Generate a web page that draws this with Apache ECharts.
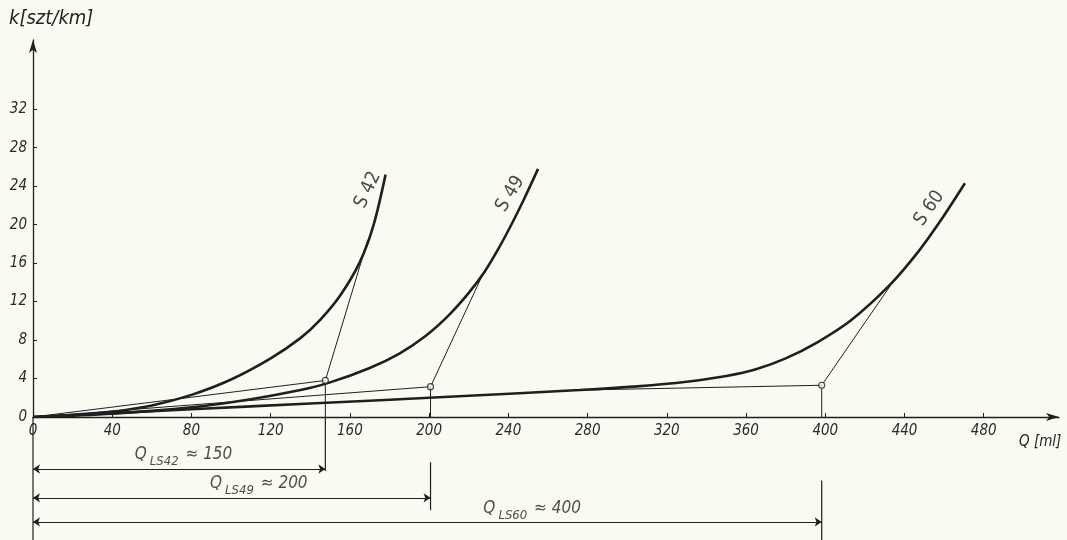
<!DOCTYPE html>
<html>
<head>
<meta charset="utf-8">
<script src="https://cdn.jsdelivr.net/npm/echarts@6/dist/echarts.min.js"></script>
<style>
html,body{margin:0;padding:0;background:#fbfaf2;}
#c{width:1067px;height:540px;}
</style>
</head>
<body>
<div id="c"></div>
<script>
// ---- data ----
const xTicks = [0, 40, 80, 120, 160, 200, 240, 280, 320, 360, 400, 440, 480];
const yTicks = [0, 4, 8, 12, 16, 20, 24, 28, 32];
const curveNames = ['S42', 'S49', 'S60'];
const s42 = [[0,0],[20,0.15],[40,0.55],[60,1.2],[80,2.3],[100,3.9],[120,6.1],[135,8.2],[145,10.1],[155,12.6],[165,16.1],[172,20.0],[178,25.2]];
const s49 = [[0,0],[40,0.35],[80,1.0],[110,1.85],[135,2.8],[150,3.6],[170,5.1],[185,6.6],[198,8.4],[210,10.6],[220,12.9],[228,15.1],[235,17.5],[242,20.2],[248,22.7],[255,25.8]];
const s60 = [[0,0],[40,0.4],[80,0.8],[140,1.4],[210,2.1],[276,2.8],[305,3.18],[330,3.66],[350,4.26],[365,4.96],[380,6.09],[396,7.77],[413,10.06],[432,13.6],[447,17.2],[458.5,20.5],[470.5,24.3]];
// construction points: chord start, Q_L point (circle), tangent point on curve
const chordStart = [[0,0],[0,0],[276,2.8]];
const qPoints = [[147.6,3.8],[200.7,3.15],[398.2,3.3]];
const tangentEnd = [[169,18.4],[227,14.8],[433,13.7]];
const qValues = ['150', '200', '400'];
const qSubs = ['LS42', 'LS49', 'LS60'];
// dimension lines below the axis (depth below axis in k units)
const dimDepth = [5.4, 8.4, 10.9];
const extTop = [0, 4.7, 6.6];
const extBottom = [5.6, 9.7, 12.78];
const dimLabelAt = [[76,4.2],[114,7.2],[252,9.8]];
const curveLabelAt = [[169,23.6],[241,23.2],[452.5,21.7]];
const curveLabelAngle = [65, 59, 55];

const INK = '#1f1f1f';
const FONT = "'DejaVu Sans Condensed', 'DejaVu Sans', sans-serif";
const curves = [s42, s49, s60];

const series = [];
curves.forEach((d, i) => {
  series.push({type:'line', xAxisIndex:0, yAxisIndex:0, data:d, smooth:0.3,
    symbol:'none', lineStyle:{color:INK, width:2.6}, z:5});
  series.push({type:'line', xAxisIndex:0, yAxisIndex:0, data:[chordStart[i], qPoints[i], tangentEnd[i]],
    symbol:'none', lineStyle:{color:INK, width:1}, z:4});
  series.push({type:'line', xAxisIndex:0, yAxisIndex:0, data:[qPoints[i], [qPoints[i][0], 0]],
    symbol:'none', lineStyle:{color:INK, width:1}, z:4});
  // extension line below axis
  series.push({type:'line', xAxisIndex:1, yAxisIndex:1, data:[[qPoints[i][0], extTop[i]], [qPoints[i][0], extBottom[i]]],
    symbol:'none', lineStyle:{color:INK, width:1.2}});
});
// left extension line
series.push({type:'line', xAxisIndex:1, yAxisIndex:1, data:[[0,0],[0,12.78]], symbol:'none', lineStyle:{color:INK, width:1.2}});
// dimension arrows
series.push({type:'lines', coordinateSystem:'cartesian2d', xAxisIndex:1, yAxisIndex:1,
  symbol:['arrow','arrow'], symbolSize:[7,7],
  lineStyle:{color:INK, width:1.2, opacity:1},
  data: qPoints.map((p, i) => ({coords:[[0, dimDepth[i]], [p[0], dimDepth[i]]]}))});
// dimension labels
series.push({type:'scatter', xAxisIndex:1, yAxisIndex:1, symbolSize:0, silent:true,
  data: dimLabelAt.map((p, i) => ({value:p, label:{formatter:'{q|Q}{s|' + qSubs[i] + '}{t| \u2248 ' + qValues[i] + '}'}})),
  label:{show:true, position:'inside', color:'#222',
    rich:{
      q:{fontSize:17, fontFamily:FONT, fontStyle:'italic', color:'#222', verticalAlign:'top', lineHeight:22},
      s:{fontSize:13, fontFamily:FONT, fontStyle:'italic', color:'#222', verticalAlign:'bottom', lineHeight:22, padding:[6,2,0,3]},
      t:{fontSize:17, fontFamily:FONT, fontStyle:'italic', color:'#222', verticalAlign:'top', lineHeight:22}
    }}});
// Q_L points (circles)
series.push({type:'scatter', xAxisIndex:0, yAxisIndex:0, data:qPoints, symbol:'circle', symbolSize:6,
  itemStyle:{color:'#fbfaf2', borderColor:INK, borderWidth:1.2}, z:10});
// curve labels
series.push({type:'scatter', xAxisIndex:0, yAxisIndex:0, symbolSize:0, silent:true,
  data: curveLabelAt.map((p, i) => ({value:p, label:{formatter:curveNames[i].replace('S','S '), rotate:curveLabelAngle[i]}})),
  label:{show:true, position:'inside', fontSize:19, fontFamily:FONT, color:'#1a1a1a'}});

const tickLabel = {fontSize:15, fontFamily:FONT, fontStyle:'italic', color:'#2a2a2a'};

const option = {
  backgroundColor:'#fbfaf2',
  animation:false,
  title:[
    {text:'k[szt/km]', left:4, top:4, textStyle:{fontSize:20, fontWeight:'normal', fontStyle:'italic', fontFamily:FONT, color:'#222'}},
    {text:'Q [ml]', left:1014, top:430, textStyle:{fontSize:15, fontWeight:'normal', fontStyle:'italic', fontFamily:FONT, color:'#222'}}
  ],
  grid:[
    {left:33, right:8, top:40, bottom:123, containLabel:false, outerBoundsMode:'none'},
    {left:33, right:8, top:417, bottom:0, containLabel:false, outerBoundsMode:'none'}
  ],
  xAxis:[
    {type:'value', gridIndex:0, min:0, max:518, splitLine:{show:false},
      axisLine:{onZero:false, symbol:['none','arrow'], symbolSize:[6,13], lineStyle:{color:INK, width:1.3}},
      axisTick:{customValues:xTicks, inside:true, length:4, lineStyle:{color:INK}},
      axisLabel:{customValues:xTicks, margin:7, ...tickLabel}},
    {type:'value', gridIndex:1, min:0, max:518, show:false}
  ],
  yAxis:[
    {type:'value', gridIndex:0, min:0, max:39.2, splitLine:{show:false},
      axisLine:{onZero:false, symbol:['none','arrow'], symbolSize:[6,13], lineStyle:{color:INK, width:1.3}},
      axisTick:{customValues:yTicks, inside:true, length:4, lineStyle:{color:INK}},
      axisLabel:{customValues:yTicks, margin:6, ...tickLabel}},
    {type:'value', gridIndex:1, min:0, max:12.78, inverse:true, show:false}
  ],
  series: series
};
const chart = echarts.init(document.getElementById('c'), null, {renderer:'canvas'});
chart.setOption(option);
</script>
</body>
</html>
